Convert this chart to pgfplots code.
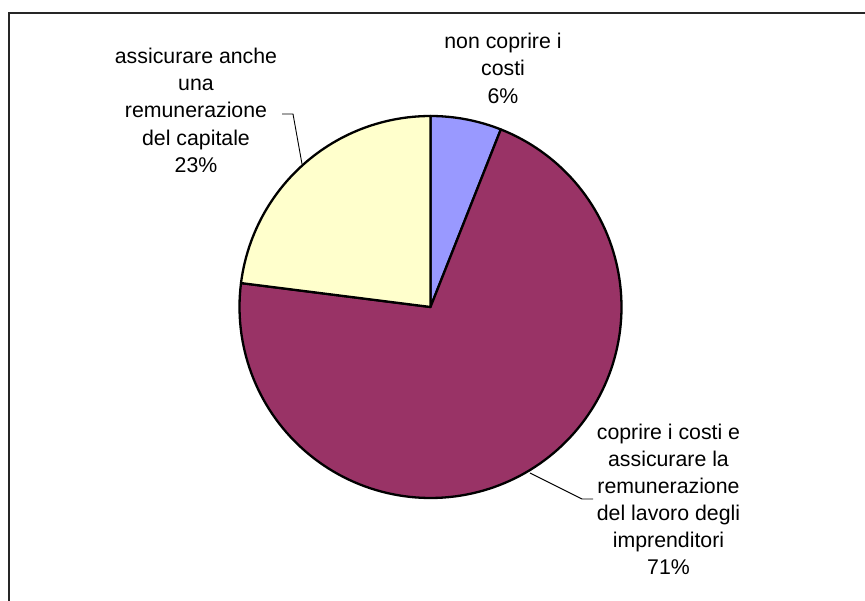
\documentclass[border=0pt]{standalone}
\usepackage{fontspec}
\setmainfont{Liberation Sans}
\usepackage{pgfplots}
\usepackage{pgfplotstable}
\pgfplotsset{compat=1.18}

\definecolor{sliceblue}{HTML}{9999FF}
\definecolor{slicemaroon}{HTML}{993366}
\definecolor{sliceyellow}{HTML}{FFFFCC}

\tikzset{lbl/.style={anchor=base, inner sep=0pt, font=\fontsize{21.3}{24}\selectfont}}

% shares of the three answers, in per cent
\pgfplotstableread{
share
6
71
23
}\piedata

\begin{document}
\begin{tikzpicture}
\pgfplotstablegetelem{0}{share}\of\piedata \let\sA\pgfplotsretval
\pgfplotstablegetelem{1}{share}\of\piedata \let\sB\pgfplotsretval
\pgfplotstablegetelem{2}{share}\of\piedata \let\sC\pgfplotsretval
% slices run clockwise from twelve o'clock (y axis points down)
\pgfmathsetmacro\aA{-90}
\pgfmathsetmacro\aB{\aA+3.6*\sA}
\pgfmathsetmacro\aC{\aB+3.6*\sB}
\pgfmathsetmacro\aD{\aC+3.6*\sC}
\def\cx{430.5}\def\cy{307}\def\rr{191}
\begin{axis}[
  width=865pt, height=601pt, scale only axis,
  xmin=0, xmax=865, ymin=0, ymax=601, y dir=reverse,
  hide axis, clip=false,
]
% chart frame
\addplot[black!85, line width=1.5pt, line join=miter] coordinates {(9,601) (9,13) (865,13)};

% slices
\addplot[fill=sliceblue, draw=black, line width=2.3pt, line join=round,
  domain=\aA:\aB, samples=30, variable=\t]
  ({\cx+\rr*cos(\t)}, {\cy+\rr*sin(\t)}) -- (axis cs:\cx,\cy) -- cycle;
\addplot[fill=slicemaroon, draw=black, line width=2.3pt, line join=round,
  domain=\aB:\aC, samples=150, variable=\t]
  ({\cx+\rr*cos(\t)}, {\cy+\rr*sin(\t)}) -- (axis cs:\cx,\cy) -- cycle;
\addplot[fill=sliceyellow, draw=black, line width=2.3pt, line join=round,
  domain=\aC:\aD, samples=60, variable=\t]
  ({\cx+\rr*cos(\t)}, {\cy+\rr*sin(\t)}) -- (axis cs:\cx,\cy) -- cycle;

% leader lines
\addplot[black, line width=0.9pt] coordinates {(282,114) (293,114) (302,164)};
\addplot[black, line width=0.9pt] coordinates {(530,473) (582,499) (593,499)};

% data labels
\node[lbl] at (axis cs:503,48.3) {non coprire i};
\node[lbl] at (axis cs:503,75.8) {costi};
\node[lbl] at (axis cs:503,103.3) {\sA\%};

\node[lbl] at (axis cs:196,63.3) {assicurare anche};
\node[lbl] at (axis cs:196,90.6) {una};
\node[lbl] at (axis cs:196,117.9) {remunerazione};
\node[lbl] at (axis cs:196,145.2) {del capitale};
\node[lbl] at (axis cs:196,172.5) {\sC\%};

\node[lbl] at (axis cs:668.5,439) {coprire i costi e};
\node[lbl] at (axis cs:668.5,466.1) {assicurare la};
\node[lbl] at (axis cs:668.5,493.2) {remunerazione};
\node[lbl] at (axis cs:668.5,520.3) {del lavoro degli};
\node[lbl] at (axis cs:668.5,547.4) {imprenditori};
\node[lbl] at (axis cs:668.5,574.5) {\sB\%};
\end{axis}
\pgfresetboundingbox
\path (current axis.south west) rectangle (current axis.north east);
\end{tikzpicture}
\end{document}
